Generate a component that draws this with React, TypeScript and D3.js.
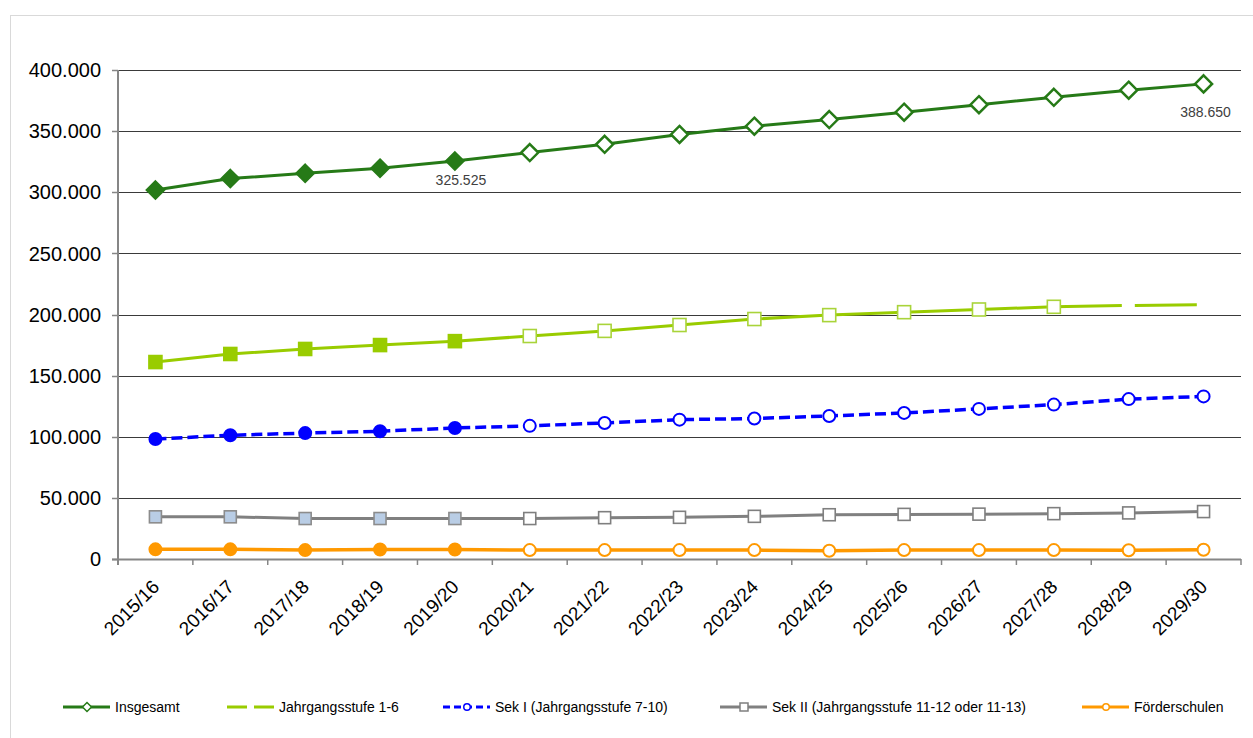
import React from "react";
import * as d3 from "d3";

// School years on the category axis
const years = [
  "2015/16", "2016/17", "2017/18", "2018/19", "2019/20",
  "2020/21", "2021/22", "2022/23", "2023/24", "2024/25",
  "2025/26", "2026/27", "2027/28", "2028/29", "2029/30",
];

// Last school year with actual counts; later years are projections (hollow markers)
const lastActualYear = "2019/20";

// Pupil counts per series
const insgesamt = [301800, 311200, 315500, 319700, 325525, 332500, 339200, 347300, 354000, 359500, 365500, 371600, 377700, 383500, 388650];
const jahrgang16 = [161100, 167700, 171800, 175000, 178200, 182400, 186600, 191400, 196300, 199500, 201900, 204100, 206300, 207400, 208100];
const sekI = [98200, 101200, 103000, 104500, 107200, 108900, 111300, 114000, 114900, 117000, 119500, 122800, 126300, 130800, 133000];
const sekII = [34500, 34500, 33100, 33100, 33100, 33100, 33800, 34100, 34900, 36200, 36500, 36700, 37100, 37700, 38800];
const foerder = [7900, 7900, 7300, 7800, 7800, 7300, 7300, 7300, 7300, 6700, 7300, 7300, 7300, 7100, 7600];

// Value-axis ticks
const yTicks = [0, 50000, 100000, 150000, 200000, 250000, 300000, 350000, 400000];

// Data labels shown on the total series
const labelYears = ["2019/20", "2029/30"];

const seriesNames = [
  "Insgesamt",
  "Jahrgangsstufe 1-6",
  "Sek I (Jahrgangsstufe 7-10)",
  "Sek II (Jahrgangsstufe 11-12 oder 11-13)",
  "Förderschulen",
];

const de = d3.formatLocale({ decimal: ",", thousands: ".", grouping: [3], currency: ["", " €"] });
const fmt = de.format(",d");

const W = 1253;
const H = 738;
const FONT = "'Liberation Sans', Arial, Helvetica, sans-serif";

type Shape = "diamond" | "square" | "circle";
interface Series {
  name: string;
  values: number[];
  color: string;
  width: number;
  dash?: string;
  shape: Shape;
  size: number;
  fill: string;
  hollowStroke: string;
  filledStroke: string;
  markerUntil?: string;
  tailDash?: string;
  legendDash?: string;
  legendMarker: boolean;
}

const series: Series[] = [
  { name: seriesNames[0], values: insgesamt, color: "#267A17", width: 3, shape: "diamond", size: 17, fill: "#267A17", hollowStroke: "#267A17", filledStroke: "#267A17", legendMarker: true },
  { name: seriesNames[1], values: jahrgang16, color: "#99CC00", width: 3, shape: "square", size: 13, fill: "#99CC00", hollowStroke: "#A9D43A", filledStroke: "#99CC00", markerUntil: "2027/28", tailDash: "68 13 62 20", legendDash: "20 7", legendMarker: false },
  { name: seriesNames[2], values: sekI, color: "#0000FF", width: 3.5, dash: "11 5", shape: "circle", size: 14, fill: "#0000FF", hollowStroke: "#0000FF", filledStroke: "#0000FF", legendDash: "7 4", legendMarker: true },
  { name: seriesNames[3], values: sekII, color: "#808080", width: 3, shape: "square", size: 12, fill: "#B9CDE5", hollowStroke: "#7F7F7F", filledStroke: "#8C8C8C", legendMarker: true },
  { name: seriesNames[4], values: foerder, color: "#FF9900", width: 3.5, shape: "circle", size: 14, fill: "#FF9900", hollowStroke: "#FF9900", filledStroke: "#FF9900", legendMarker: true },
];

const legendX = [63, 227, 443, 720, 1082];

function Marker({ shape, cx, cy, size, fill, stroke, sw }: { shape: Shape; cx: number; cy: number; size: number; fill: string; stroke: string; sw: number }) {
  const h = size / 2;
  if (shape === "diamond") {
    const d = `M${cx},${cy - h}L${cx + h},${cy}L${cx},${cy + h}L${cx - h},${cy}Z`;
    return <path d={d} fill={fill} stroke={stroke} strokeWidth={sw} strokeLinejoin="miter" />;
  }
  if (shape === "square") {
    return <rect x={cx - h} y={cy - h} width={size} height={size} fill={fill} stroke={stroke} strokeWidth={sw} />;
  }
  return <circle cx={cx} cy={cy} r={h - sw / 2} fill={fill} stroke={stroke} strokeWidth={sw} />;
}

export default function App() {
  const x = d3.scaleBand<string>().domain(years).range([118, 1241]).paddingInner(0).paddingOuter(0);
  const bw = x.bandwidth();
  const cx = (yr: string) => (x(yr) as number) + bw / 2;
  const y = d3.scaleLinear().domain([0, 400000]).range([559, 70]);
  const lastActual = years.indexOf(lastActualYear);

  const line = d3
    .line<number>()
    .x((_, i) => cx(years[i]))
    .y((v) => y(v));

  const boundaries = d3.range(years.length + 1).map((i) => 118 + i * bw);

  return (
    <svg width={W} height={H} style={{ position: "absolute", left: 0, top: 0, background: "#fff" }} fontFamily={FONT}>
      <rect x={0} y={0} width={W} height={H} fill="#fff" />
      {/* chart frame */}
      <rect x={10.5} y={15.5} width={W} height={H} fill="none" stroke="#D9D9D9" strokeWidth={1} />

      {/* gridlines */}
      {yTicks.filter((t) => t > 0).map((t) => (
        <line key={t} x1={118} x2={1241} y1={Math.round(y(t)) + 0.5} y2={Math.round(y(t)) + 0.5} stroke="#3A3A3A" strokeWidth={1} />
      ))}

      {/* value axis */}
      <line x1={118} x2={118} y1={70} y2={565} stroke="#868686" strokeWidth={2} />
      {yTicks.map((t) => (
        <g key={t}>
          <line x1={112} x2={118} y1={Math.round(y(t)) + 0.5} y2={Math.round(y(t)) + 0.5} stroke="#868686" strokeWidth={1.5} />
          <text x={101} y={y(t)} dy="0.36em" textAnchor="end" fontSize={20} fill="#000">
            {fmt(t)}
          </text>
        </g>
      ))}

      {/* category axis */}
      <line x1={112} x2={1241} y1={559.5} y2={559.5} stroke="#868686" strokeWidth={2} />
      {boundaries.map((b, i) => (
        <line key={i} x1={b} x2={b} y1={559} y2={565} stroke="#868686" strokeWidth={1.5} />
      ))}
      {years.map((yr) => (
        <text key={yr} transform={`translate(${cx(yr) + 5},${588}) rotate(-45)`} textAnchor="end" fontSize={19} fill="#000">
          {yr}
        </text>
      ))}

      {/* series lines */}
      {series.map((s) => {
        const until = s.tailDash && s.markerUntil ? years.indexOf(s.markerUntil) : years.length - 1;
        const head = s.values.slice(0, until + 1);
        const tail = s.values.slice(until);
        const tailLine = d3
          .line<number>()
          .x((_, i) => cx(years[i + until]))
          .y((v) => y(v));
        return (
          <g key={s.name}>
            <path d={line(head) ?? ""} fill="none" stroke={s.color} strokeWidth={s.width} strokeDasharray={s.dash} strokeLinejoin="round" />
            {s.tailDash && tail.length > 1 && (
              <path d={tailLine(tail) ?? ""} fill="none" stroke={s.color} strokeWidth={s.width} strokeDasharray={s.tailDash} />
            )}
          </g>
        );
      })}

      {/* series markers */}
      {series.map((s) => {
        const until = s.markerUntil ? years.indexOf(s.markerUntil) : years.length - 1;
        return (
          <g key={s.name + "-m"}>
            {s.values.map((v, i) => {
              if (i > until) return null;
              const filled = i <= lastActual;
              return (
                <Marker
                  key={i}
                  shape={s.shape}
                  cx={cx(years[i])}
                  cy={y(v)}
                  size={s.size}
                  fill={filled ? s.fill : "#fff"}
                  stroke={filled ? s.filledStroke : s.hollowStroke}
                  sw={s.shape === "diamond" ? 2.5 : s.shape === "circle" ? 2 : 1.6}
                />
              );
            })}
          </g>
        );
      })}

      {/* data labels on the total */}
      {labelYears.map((yr, k) => {
        const i = years.indexOf(yr);
        const v = insgesamt[i];
        const dx = k === 0 ? 6 : 2;
        const dy = k === 0 ? 24 : 33;
        return (
          <text key={yr} x={cx(yr) + dx} y={y(v) + dy} textAnchor="middle" fontSize={14} fill="#404040">
            {fmt(v)}
          </text>
        );
      })}

      {/* legend */}
      {series.map((s, k) => {
        const lx = legendX[k];
        const ly = 707;
        const mid = lx + 24;
        return (
          <g key={s.name + "-l"}>
            <line x1={lx} x2={lx + 47} y1={ly} y2={ly} stroke={s.color} strokeWidth={3} strokeDasharray={s.legendDash ?? s.dash} />
            {s.legendMarker ? (
              <Marker
                shape={s.shape}
                cx={mid}
                cy={ly}
                size={s.shape === "diamond" ? 9 : 8}
                fill="#fff"
                stroke={s.hollowStroke}
                sw={1.5}
              />
            ) : null}
            <text x={lx + 52} y={ly} dy="0.35em" fontSize={14} fill="#000">
              {s.name}
            </text>
          </g>
        );
      })}
    </svg>
  );
}
